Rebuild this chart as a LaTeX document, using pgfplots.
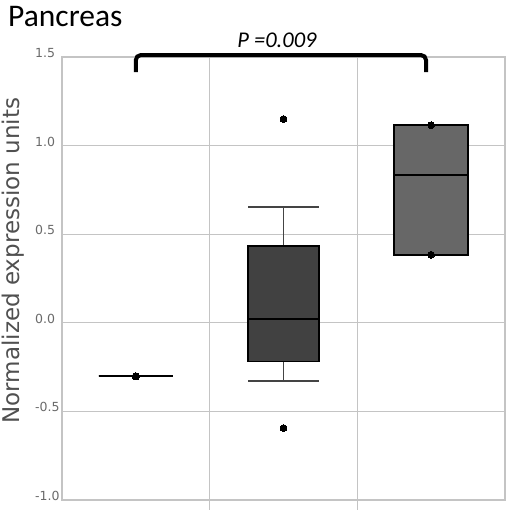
\documentclass[border=0pt]{standalone}
\usepackage{pgfplots}
\pgfplotsset{compat=1.18}
\usepgfplotslibrary{statistics}
\usepackage{fontspec}
\setmainfont{Carlito}
\newfontfamily\dejavu{DejaVu Sans}
\definecolor{gridc}{HTML}{C4C4C4}
\definecolor{tickc}{HTML}{6A6A6A}
\definecolor{labc}{HTML}{505050}
\definecolor{boxtwo}{HTML}{414141}
\definecolor{boxthree}{HTML}{676767}
\definecolor{whisk}{HTML}{444444}
\begin{document}
\begin{tikzpicture}
\begin{axis}[
  scale only axis,
  width=443pt, height=443pt,
  xmin=-0.5, xmax=2.5,
  ymin=-1, ymax=1.5,
  clip=false,
  xtick={0.5,1.5},
  xticklabels={},
  ytick={-1,-0.5,0,0.5,1,1.5},
  xtick pos=bottom,
  ytick pos=left,
  tick align=outside,
  xmajorgrids, ymajorgrids,
  major grid style={gridc, line width=1pt},
  axis line style={gridc, line width=1.2pt},
  x tick style={gridc, line width=1pt},
  y tick style={draw=none},
  major tick length=10pt,
  boxplot/draw direction=y,
  /pgf/number format/assume math mode=true,
  yticklabel style={font=\dejavu\fontsize{12.5}{13}\selectfont, text=tickc,
    anchor=west, inner sep=0pt, xshift=-17pt, yshift=4pt,
    /pgf/number format/.cd, fixed, fixed zerofill, precision=1},
]
% group 1 (single value)
\addplot[black, line width=2.2pt, mark=*, mark size=3.6pt, mark options={fill=black, line width=0pt},
  boxplot prepared={draw position=0, lower whisker=-0.302, lower quartile=-0.302,
    median=-0.302, upper quartile=-0.302, upper whisker=-0.302,
    box extend=0.5, whisker extend=0.5}]
  table[row sep=\\, y index=0] {-0.302\\};
% group 2
\addplot[draw=black, line width=1.6pt, fill=boxtwo, mark=*, mark size=3.4pt, mark options={fill=black, line width=0pt},
  boxplot/every whisker/.style={/tikz/draw=whisk, /tikz/line width=1.8pt},
  boxplot/every median/.style={/tikz/draw=black, /tikz/line width=1.8pt},
  boxplot prepared={draw position=1, lower whisker=-0.328, lower quartile=-0.218,
    median=0.02, upper quartile=0.435, upper whisker=0.655,
    box extend=0.48, whisker extend=0.48}]
  table[row sep=\\, y index=0] {1.15\\ -0.594\\};
% group 3
\addplot[draw=black, line width=1.6pt, fill=boxthree, mark=*, mark size=3.4pt, mark options={fill=black, line width=0pt},
  boxplot/every median/.style={/tikz/draw=black, /tikz/line width=2.2pt},
  boxplot prepared={draw position=2, lower whisker=0.384, lower quartile=0.384,
    median=0.836, upper quartile=1.115, upper whisker=1.115,
    box extend=0.5, whisker extend=0.5}]
  table[row sep=\\, y index=0] {1.115\\ 0.384\\};
% significance bracket
\draw[black, line width=4pt, rounded corners=5pt]
  (axis cs:0,1.415) -- (axis cs:0,1.511) -- (axis cs:1.965,1.511) -- (axis cs:1.965,1.415);
\node[font=\fontsize{22.5}{24}\selectfont\itshape, anchor=center] at (axis cs:0.956,1.596) {P =0.009};
\node[font=\fontsize{31.5}{33}\selectfont, anchor=base west, inner sep=0pt]
  at ([shift={(-54pt,30pt)}]rel axis cs:0,1) {Pancreas};
\node[font=\dejavu\fontsize{23}{24}\selectfont, text=labc, rotate=90, anchor=base, inner sep=0pt]
  at ([xshift=-43pt]rel axis cs:0,0.54) {Normalized expression units};
\coordinate (bbNW) at ([shift={(-62pt,57pt)}]rel axis cs:0,1);
\coordinate (bbSE) at ([shift={(1pt,-10pt)}]rel axis cs:1,0);
\end{axis}
\pgfresetboundingbox
\path[use as bounding box] (bbNW) rectangle (bbSE);
\end{tikzpicture}
\end{document}
